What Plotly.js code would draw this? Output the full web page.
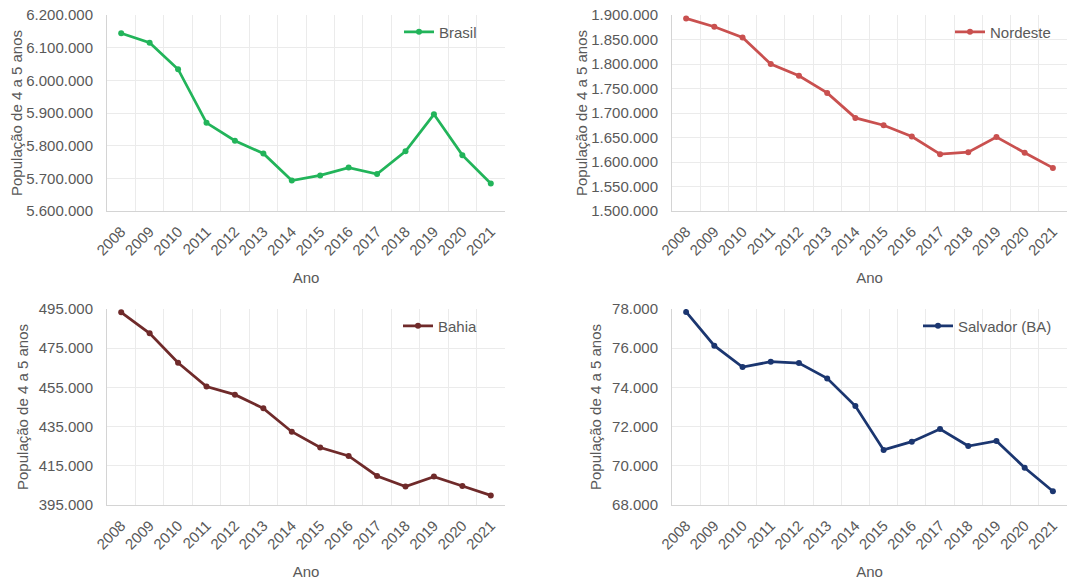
<!DOCTYPE html>
<html>
<head>
<meta charset="utf-8">
<script src="https://cdn.plot.ly/plotly-3.0.1.min.js"></script>
<style>html,body{margin:0;padding:0;background:#fff;}#chart{width:1084px;height:581px;}</style>
</head>
<body>
<div id="chart"></div>
<script>
const anos = ['2008','2009','2010','2011','2012','2013','2014','2015','2016','2017','2018','2019','2020','2021'];
const brasil = [6144000, 6115000, 6034000, 5870000, 5815000, 5776000, 5693000, 5709000, 5733000, 5713000, 5783000, 5896000, 5771000, 5684000];
const nordeste = [1893000, 1876000, 1854000, 1800000, 1776000, 1741000, 1690000, 1675000, 1652000, 1616000, 1620000, 1651000, 1619000, 1588000];
const bahia = [493300, 482600, 467600, 455400, 451300, 444300, 432400, 424300, 420000, 409800, 404400, 409500, 404700, 399900];
const salvador = [77850, 76130, 75040, 75310, 75240, 74460, 73050, 70810, 71230, 71880, 71010, 71270, 69900, 68700];
const nomes = ['Brasil', 'Nordeste', 'Bahia', 'Salvador (BA)'];
const cores = ['#22B45A', '#C9504F', '#6F2A2A', '#1B3670'];
const eixoY = 'População de 4 a 5 anos';
const eixoX = 'Ano';

const W = 1084, H = 581;
const fontFam = '"Liberation Sans", Arial, sans-serif';
const txtColor = '#595959';
const gridColor = '#EBEBEB';
const lineColor = '#D4D4D4';

const series = [brasil, nordeste, bahia, salvador];
const traces = series.map((vals, i) => ({
  type: 'scatter', mode: 'lines+markers',
  x: anos, y: vals, name: nomes[i],
  xaxis: i === 0 ? 'x' : 'x' + (i + 1),
  yaxis: i === 0 ? 'y' : 'y' + (i + 1),
  legend: i === 0 ? 'legend' : 'legend' + (i + 1),
  line: {color: cores[i], width: 2.75},
  marker: {color: cores[i], size: 6}
}));

const xd = [[107 / W, 505 / W], [672 / W, 1067 / W]];
const yd = [[1 - 211 / H, 1 - 15 / H], [1 - 505 / H, 1 - 309 / H]];

function xAxis(dom, anchor) {
  return {
    domain: dom, anchor: anchor, type: 'category',
    range: [-0.5, 13.5], tickson: 'boundaries', ticks: '',
    tickangle: -45, showgrid: true, gridcolor: gridColor, gridwidth: 1,
    showline: true, linecolor: lineColor, linewidth: 1, mirror: false,
    ticklabelstandoff: 5,
    tickfont: {family: fontFam, size: 15, color: txtColor},
    title: {text: eixoX, font: {family: fontFam, size: 15, color: txtColor}, standoff: 14},
    zeroline: false, fixedrange: true
  };
}
function yAxis(dom, anchor, rng, dt, so) {
  return {
    domain: dom, anchor: anchor, range: rng, dtick: dt, tick0: rng[0],
    tickformat: ',d', showgrid: true, gridcolor: gridColor, gridwidth: 1,
    showline: true, linecolor: lineColor, linewidth: 1, ticks: '',
    ticklabelstandoff: 10,
    tickfont: {family: fontFam, size: 15, color: txtColor},
    title: {text: eixoY, font: {family: fontFam, size: 15, color: txtColor}, standoff: so},
    zeroline: false, fixedrange: true
  };
}
function legendAt(xpx, ypx) {
  return {
    x: xpx / W, y: 1 - ypx / H, xanchor: 'left', yanchor: 'middle',
    bgcolor: 'rgba(0,0,0,0)', borderwidth: 0,
    font: {family: fontFam, size: 15, color: txtColor}
  };
}

const layout = {
  width: W, height: H, margin: {l: 0, r: 0, t: 0, b: 0},
  paper_bgcolor: '#fff', plot_bgcolor: '#fff',
  separators: ',.', showlegend: true,
  font: {family: fontFam, color: txtColor},
  xaxis: xAxis(xd[0], 'y'),
  yaxis: yAxis(yd[0], 'x', [5600000, 6200000], 100000, 0),
  xaxis2: xAxis(xd[1], 'y2'),
  yaxis2: yAxis(yd[0], 'x2', [1500000, 1900000], 50000, 0),
  xaxis3: xAxis(xd[0], 'y3'),
  yaxis3: yAxis(yd[1], 'x3', [395000, 495000], 20000, 6),
  xaxis4: xAxis(xd[1], 'y4'),
  yaxis4: yAxis(yd[1], 'x4', [68000, 78000], 2000, 6),
  legend: legendAt(399, 32),
  legend2: legendAt(950, 32),
  legend3: legendAt(398, 326),
  legend4: legendAt(918, 326)
};

Plotly.newPlot('chart', traces, layout, {displayModeBar: false, staticPlot: true});
</script>
</body>
</html>
